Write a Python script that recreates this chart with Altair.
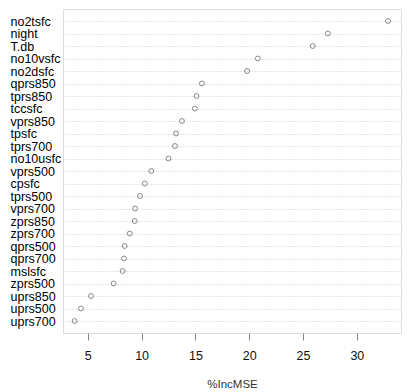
import altair as alt
import pandas as pd

# Variable importance (%IncMSE) from a random forest, highest first
variables = [
    "no2tsfc", "night", "T.db", "no10vsfc", "no2dsfc", "qprs850", "tprs850",
    "tccsfc", "vprs850", "tpsfc", "tprs700", "no10usfc", "vprs500", "cpsfc",
    "tprs500", "vprs700", "zprs850", "zprs700", "qprs500", "qprs700",
    "mslsfc", "zprs500", "uprs850", "uprs500", "uprs700",
]
inc_mse = [
    32.9, 27.3, 25.9, 20.8, 19.8, 15.6, 15.1,
    14.95, 13.75, 13.2, 13.1, 12.5, 10.9, 10.3,
    9.85, 9.4, 9.36, 8.9, 8.43, 8.36,
    8.24, 7.4, 5.3, 4.37, 3.78,
]
x_ticks = [5, 10, 15, 20, 25, 30]

df = pd.DataFrame({"var": variables, "imp": inc_mse})

FONT = "Liberation Sans"

chart = (
    alt.Chart(df)
    .mark_point(shape="circle", filled=False, size=24, color="#555555", strokeWidth=1)
    .encode(
        x=alt.X(
            "imp:Q",
            title="%IncMSE",
            scale=alt.Scale(domain=[2.7, 34.1], nice=False, zero=False),
            axis=alt.Axis(
                values=x_ticks,
                grid=False,
                domain=False,
                tickSize=7,
                tickColor="#888888",
                labelFontSize=12.5,
                labelColor="#111111",
                labelPadding=9,
                titleFontSize=11.5,
                titleFontWeight="normal",
                titleColor="#333333",
                titlePadding=17,
                labelFont=FONT,
                titleFont=FONT,
            ),
        ),
        y=alt.Y(
            "var:N",
            title=None,
            sort=variables,
            scale=alt.Scale(type="point", padding=0.96),
            axis=alt.Axis(
                grid=True,
                gridColor="#cccccc",
                gridDash=[1, 2],
                gridWidth=1,
                domain=False,
                ticks=False,
                labelAlign="left",
                labelPadding=53,
                labelFontSize=12.5,
                labelColor="#000000",
                labelFont=FONT,
            ),
        ),
    )
    .properties(
        width=338,
        height=324,
        autosize="none",
        padding={"left": 63, "top": 9, "right": 6, "bottom": 59},
    )
    .configure_view(stroke="#999999", strokeWidth=1.5)
    .configure(background="white")
)

chart.save("out.html", embed_options={"renderer": "svg", "actions": False})
